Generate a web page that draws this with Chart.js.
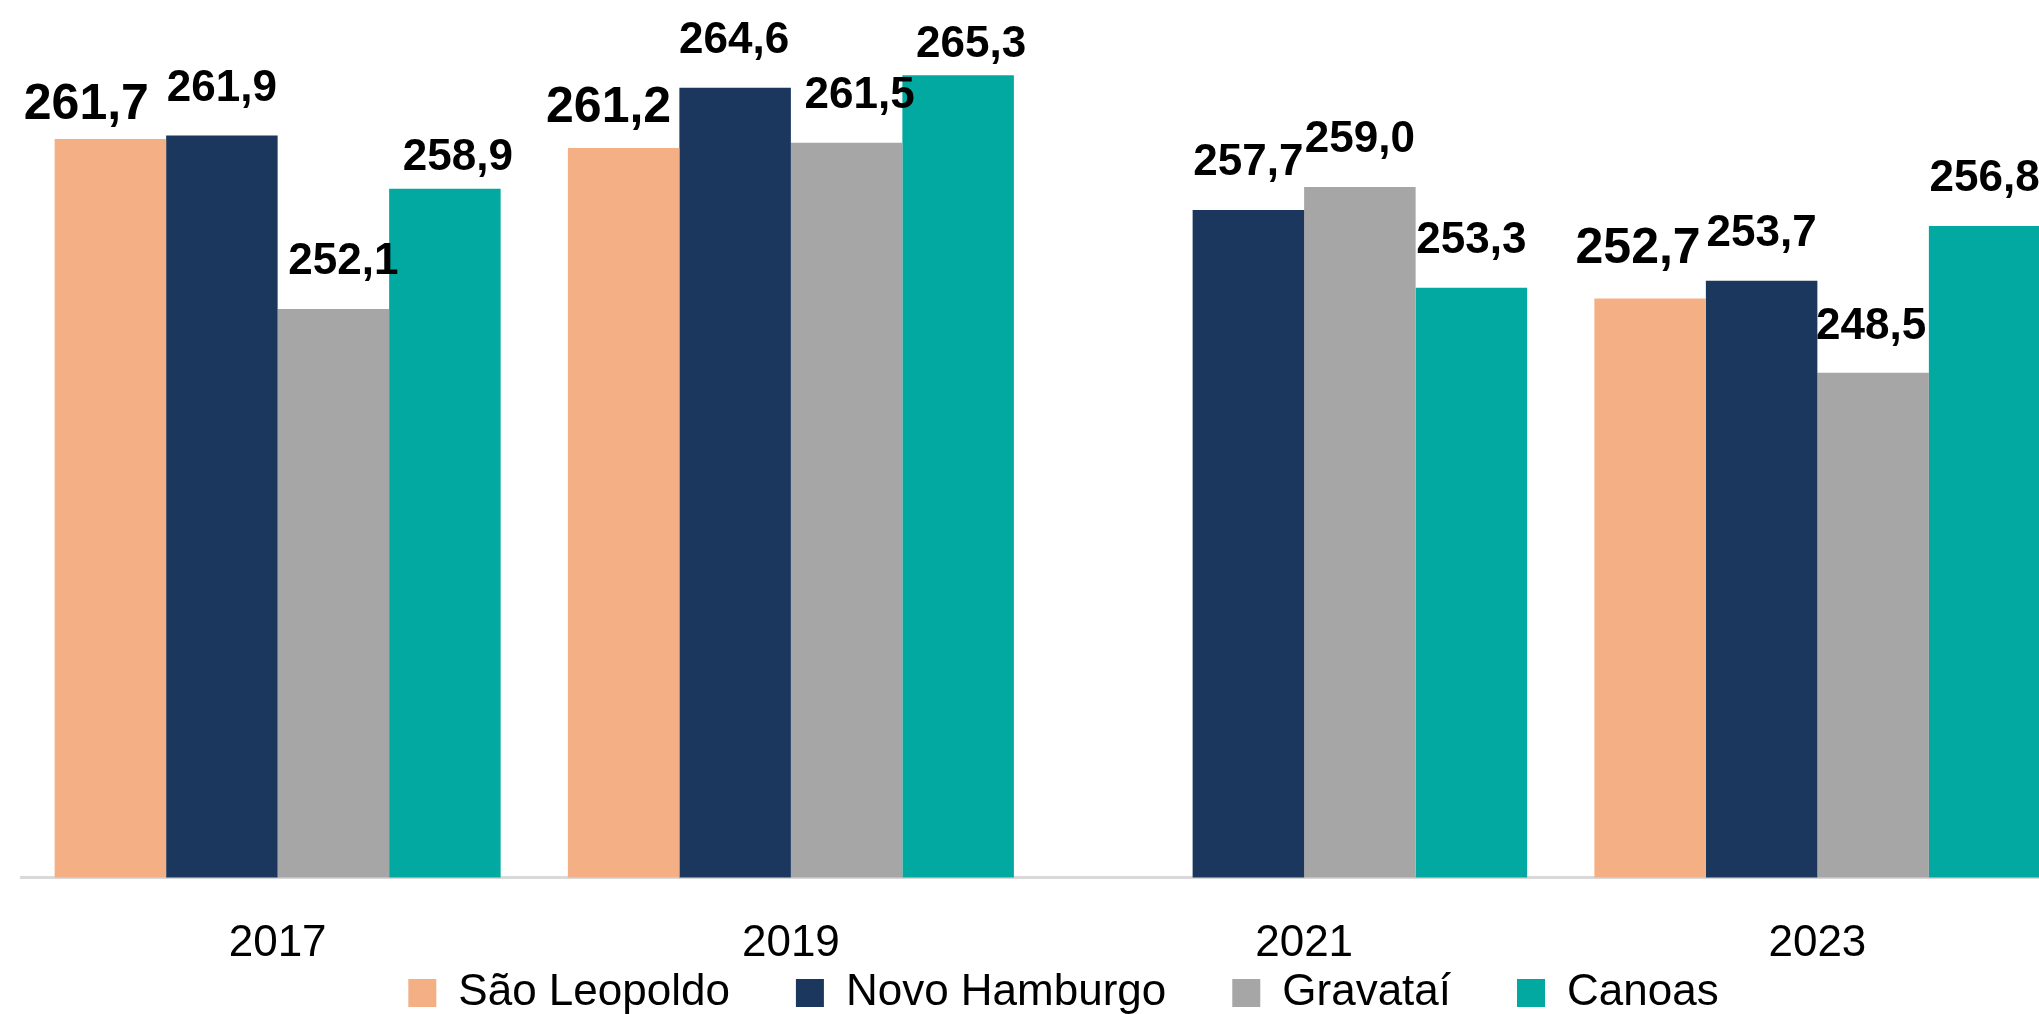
<!DOCTYPE html>
<html lang="pt-BR">
<head>
<meta charset="utf-8">
<title>Proficiência média por município</title>
<script src="https://cdn.jsdelivr.net/npm/chart.js@4.4.1/dist/chart.umd.min.js"></script>
<style>
  html, body { margin: 0; padding: 0; background: #ffffff; overflow: hidden; }
  #wrap { position: absolute; left: 0; top: 0; width: 2110px; height: 1090px; }
  canvas { display: block; }
</style>
</head>
<body>
<div id="wrap"><canvas id="chart" width="2110" height="1090"></canvas></div>
<script>
// Anos de aplicação
const years = ['2017', '2019', '2021', '2023'];

// Médias por município (sem resultado de São Leopoldo em 2021)
const saoLeopoldo  = [261.7, 261.2, null, 252.7];
const novoHamburgo = [261.9, 264.6, 257.7, 253.7];
const gravatai     = [252.1, 261.5, 259.0, 248.5];
const canoas       = [258.9, 265.3, 253.3, 256.8];

const seriesNames  = ['São Leopoldo', 'Novo Hamburgo', 'Gravataí', 'Canoas'];
const seriesColors = ['#F4B084', '#1B375E', '#A6A6A6', '#02A9A0'];

// Ajuste fino da posição de cada rótulo de valor [dx, dy] em px
const labelNudge = [
  [[-24, 15], [-15, 9], [0, 0], [-12, 0]],
  [[0, 0], [-1, 0], [0, 0], [0, 0]],
  [[10, 0], [13, 0], [0, 0], [-2, 1]],
  [[13, 16], [13, 17], [0, 0], [0, 0]]
];

const FONT = '"Liberation Sans", Arial, sans-serif';

// Rótulos de valor acima das barras, com vírgula decimal
const valueLabels = {
  id: 'valueLabels',
  afterDatasetsDraw(chart) {
    const ctx = chart.ctx;
    ctx.save();
    ctx.fillStyle = '#000000';
    ctx.textAlign = 'center';
    ctx.textBaseline = 'alphabetic';
    chart.data.datasets.forEach((ds, i) => {
      const meta = chart.getDatasetMeta(i);
      const size = i === 0 ? 50 : 44;
      ctx.font = 'bold ' + size + 'px ' + FONT;
      meta.data.forEach((bar, j) => {
        const v = ds.data[j];
        if (v === null || v === undefined) return;
        const [dx, dy] = labelNudge[i][j];
        const text = v.toFixed(1).replace('.', ',');
        ctx.fillText(text, bar.x + dx, bar.y - 35 + dy);
      });
    });
    ctx.restore();
  }
};

// Aproxima a legenda dos rótulos do eixo X
const legendLift = {
  id: 'legendLift',
  afterLayout(chart) {
    const lg = chart.legend;
    if (!lg) return;
    lg.top -= 64.5;
    lg.bottom -= 64.5;
  }
};

const seriesData = [saoLeopoldo, novoHamburgo, gravatai, canoas];

new Chart(document.getElementById('chart'), {
  type: 'bar',
  data: {
    labels: years,
    datasets: seriesData.map((d, i) => ({
      label: seriesNames[i],
      data: d,
      backgroundColor: seriesColors[i],
      borderWidth: 0,
      categoryPercentage: 0.869,
      barPercentage: 1.0
    }))
  },
  options: {
    responsive: false,
    animation: false,
    devicePixelRatio: 1,
    layout: { padding: { left: 21, right: 4, top: 1, bottom: 0.5 } },
    scales: {
      x: {
        grid: { display: false, drawTicks: false },
        border: { display: true, color: '#D9D9D9', width: 3 },
        ticks: {
          padding: 40,
          color: '#000000',
          font: { family: FONT, size: 44 }
        },
        afterFit(scale) { scale.height = 92; }
      },
      y: {
        position: 'right',
        min: 220,
        max: 269.5,
        grid: { display: false },
        border: { display: false },
        ticks: { display: false },
        afterFit(scale) { scale.width = 32; }
      }
    },
    plugins: {
      legend: {
        position: 'bottom',
        labels: {
          boxWidth: 28,
          boxHeight: 28,
          padding: 66,
          color: '#000000',
          font: { family: FONT, size: 44 }
        }
      },
      tooltip: { enabled: false }
    }
  },
  plugins: [valueLabels, legendLift]
});
</script>
</body>
</html>
